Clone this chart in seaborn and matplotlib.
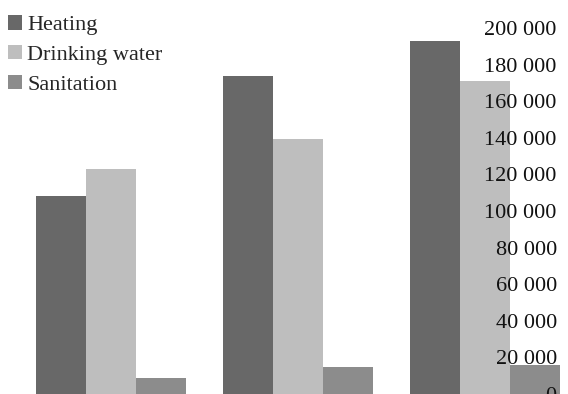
import matplotlib
matplotlib.use("Agg")
import matplotlib.pyplot as plt
from matplotlib.patches import Patch
from matplotlib.ticker import FuncFormatter
import pandas as pd
import seaborn as sns

# Data
groups = ["I", "II", "III"]
series = ["Heating", "Drinking water", "Sanitation"]
heating = [108000, 174000, 193000]
drinking_water = [123000, 139500, 171000]
sanitation = [8700, 14900, 15800]
yticks = [0, 20000, 40000, 60000, 80000, 100000, 120000, 140000, 160000, 180000, 200000]

colors = ["#686868", "#bebebe", "#8c8c8c"]

df = pd.DataFrame({
    "group": groups * 3,
    "series": [s for s in series for _ in groups],
    "value": heating + drinking_water + sanitation,
})

sns.set_theme(style="white")
plt.rcParams["font.family"] = ["Liberation Serif", "DejaVu Serif"]

W, H, DPI = 568, 394, 100
fig = plt.figure(figsize=(W / DPI, H / DPI), dpi=DPI)
ax = fig.add_axes([0, 0, 1, (H - 28) / H])

sns.barplot(data=df, x="group", y="value", hue="series", hue_order=series,
            palette=colors, width=0.8, linewidth=0, saturation=1,
            legend=False, ax=ax, errorbar=None)

ax.set_xlim(-111 / 187, (W - 111) / 187)
ax.set_ylim(0, 200000)
ax.set_yticks(yticks)
ax.yaxis.set_major_formatter(FuncFormatter(lambda v, p: f"{int(v):,}".replace(",", " ")))
ax.tick_params(axis="y", left=False, labelleft=False, right=True, labelright=True,
               length=0, pad=-8.1, labelsize=16, colors="#111111")
for lab in ax.get_yticklabels():
    lab.set_horizontalalignment("right")
# tick labels sit on top of the bars
ax.set_axisbelow(False)
ax.yaxis.set_zorder(5)
ax.set_xticks([])
ax.set_xlabel("")
ax.set_ylabel("")
for sp in ax.spines.values():
    sp.set_visible(False)
ax.patch.set_alpha(0)

handles = [Patch(facecolor=c, edgecolor="none") for c in colors]
fig.legend(handles, series, loc="upper left", bbox_to_anchor=(4 / W, 1 - 11 / H),
           frameon=False, fontsize=16, handlelength=0.6, handleheight=0.6,
           handletextpad=0.25, labelspacing=0.45, borderaxespad=0, borderpad=0.2)

fig.savefig("out.png", dpi=DPI)
